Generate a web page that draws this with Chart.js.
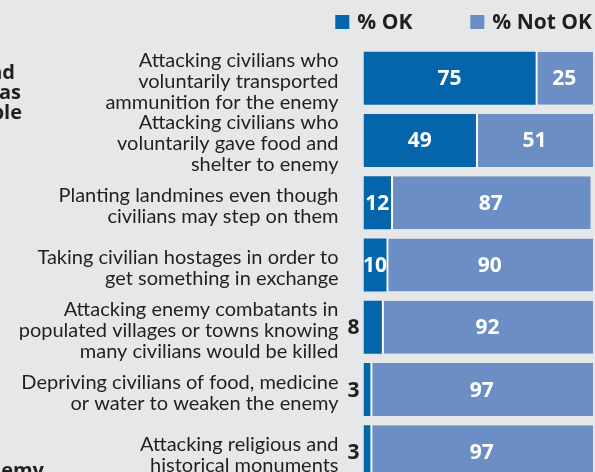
<!DOCTYPE html>
<html>
<head>
<meta charset="utf-8">
<script src="https://cdn.jsdelivr.net/npm/chart.js@4"></script>
<style>
  html, body { margin: 0; padding: 0; background: #e6e7e8; overflow: hidden; }
  #wrap { width: 595px; height: 483px; }
</style>
</head>
<body>
<div id="wrap"><canvas id="c" width="595" height="483"></canvas></div>
<script>
// Survey categories (multi-line labels) and the two stacked series
const categories = [
  ["Attacking civilians who", "voluntarily transported", "ammunition for the enemy"],
  ["Attacking civilians who", "voluntarily gave food and", "shelter to enemy"],
  ["Planting landmines even though", "civilians may step on them"],
  ["Taking civilian hostages in order to", "get something in exchange"],
  ["Attacking enemy combatants in", "populated villages or towns knowing", "many civilians would be killed"],
  ["Depriving civilians of food, medicine", "or water to weaken the enemy"],
  ["Attacking religious and", "historical monuments"]
];
const okValues = [75, 49, 12, 10, 8, 3, 3];
const notOkValues = [25, 51, 87, 90, 92, 97, 97];
const seriesNames = ["% OK", "% Not OK"];
// Edge of the neighbouring text column on the left
const sideNotes = ["and", "was", "people", "enemy"];

const OK_COLOR = '#0565aa';
const NOT_OK_COLOR = '#6b8fc5';
const TEXT_COLOR = '#231f20';

const valueLabels = {
  id: 'valueLabels',
  afterDatasetsDraw(chart) {
    const ctx = chart.ctx;
    ctx.save();
    ctx.font = 'bold 21px "Open Sans"';
    ctx.textBaseline = 'middle';
    chart.data.datasets.forEach((ds, di) => {
      chart.getDatasetMeta(di).data.forEach((bar, i) => {
        const v = ds.data[i];
        const txt = String(v);
        const left = Math.min(bar.x, bar.base);
        const right = Math.max(bar.x, bar.base);
        if (v < 10) {
          ctx.fillStyle = TEXT_COLOR;
          ctx.textAlign = 'right';
          ctx.fillText(txt, left - 4, bar.y + 1);
        } else {
          ctx.fillStyle = '#ffffff';
          ctx.textAlign = 'center';
          ctx.fillText(txt, (left + right) / 2, bar.y + 1);
        }
      });
    });
    ctx.restore();
  }
};

const topLegend = {
  id: 'topLegend',
  afterDraw(chart) {
    const ctx = chart.ctx;
    ctx.save();
    ctx.font = 'bold 21px "Open Sans"';
    ctx.textBaseline = 'middle';
    ctx.textAlign = 'left';
    const colors = [OK_COLOR, NOT_OK_COLOR];
    const y = 22;
    let x = chart.chartArea.right - 1;
    for (let k = seriesNames.length - 1; k >= 0; k--) {
      const w = ctx.measureText(seriesNames[k]).width;
      const textX = x - w;
      ctx.fillStyle = TEXT_COLOR;
      ctx.fillText(seriesNames[k], textX, y + 1);
      const boxX = textX - 8 - 14;
      ctx.fillStyle = colors[k];
      ctx.fillRect(boxX, y - 7, 14, 14);
      x = boxX - 58;
    }
    ctx.restore();
  }
};

const sideText = {
  id: 'sideText',
  afterDraw(chart) {
    const ctx = chart.ctx;
    ctx.save();
    ctx.font = 'bold 20px "Open Sans"';
    ctx.fillStyle = TEXT_COLOR;
    ctx.textAlign = 'right';
    ctx.textBaseline = 'alphabetic';
    ctx.fillText(sideNotes[0], 15, 79);
    ctx.fillText(sideNotes[1], 21, 99);
    ctx.fillText(sideNotes[2], 22, 119);
    ctx.fillText(sideNotes[3], 44, 477);
    ctx.restore();
  }
};

new Chart(document.getElementById('c'), {
  type: 'bar',
  data: {
    labels: categories,
    datasets: [
      {
        label: seriesNames[0],
        data: okValues,
        backgroundColor: OK_COLOR,
        borderWidth: 0,
        categoryPercentage: 1,
        barPercentage: 0.851
      },
      {
        label: seriesNames[1],
        data: notOkValues,
        backgroundColor: NOT_OK_COLOR,
        borderColor: '#ffffff',
        borderWidth: { left: 2, right: 0, top: 0, bottom: 0 },
        borderSkipped: false,
        categoryPercentage: 1,
        barPercentage: 0.851
      }
    ]
  },
  options: {
    indexAxis: 'y',
    responsive: false,
    animation: false,
    devicePixelRatio: 1,
    layout: { padding: { top: 47, right: 2, bottom: 0, left: 0 } },
    scales: {
      x: { stacked: true, min: 0, max: 100, display: false },
      y: {
        stacked: true,
        grid: { display: false, drawTicks: false },
        border: { display: false },
        ticks: {
          autoSkip: false,
          padding: 25,
          labelOffset: 3,
          color: TEXT_COLOR,
          font: { family: 'Lato', size: 20, lineHeight: 1.05 }
        },
        afterFit(scale) {
          scale.width = 363.5;
          scale.paddingTop = 0;
          scale.paddingBottom = 0;
        }
      }
    },
    plugins: {
      legend: { display: false },
      tooltip: { enabled: false }
    }
  },
  plugins: [valueLabels, topLegend, sideText]
});
</script>
</body>
</html>
